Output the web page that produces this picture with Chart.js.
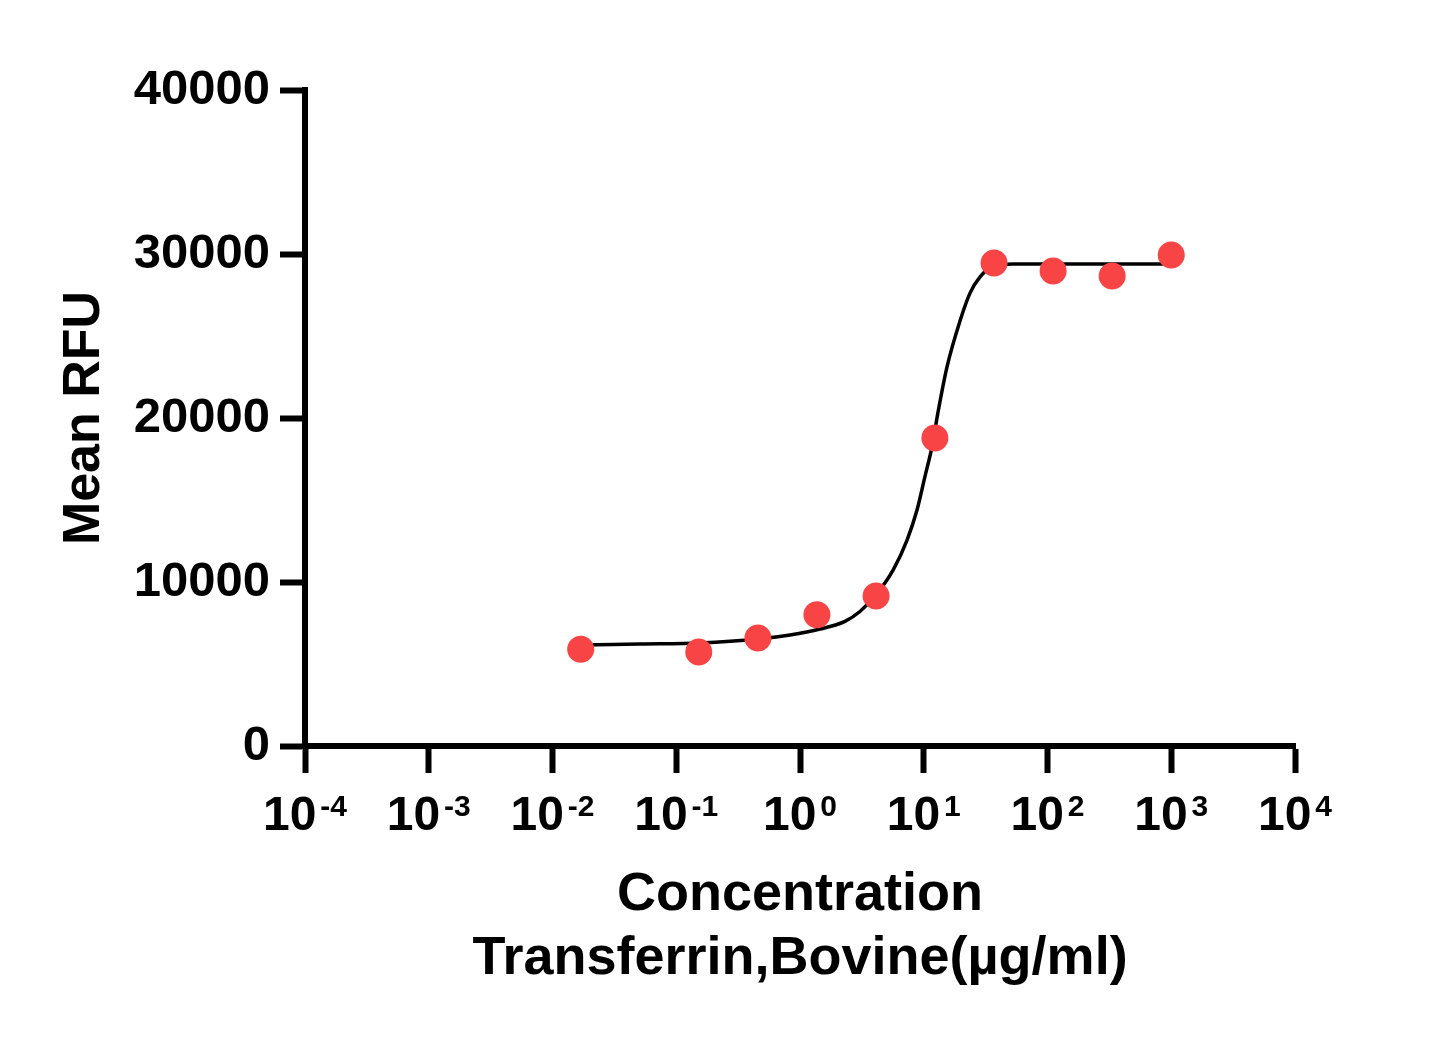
<!DOCTYPE html>
<html>
<head>
<meta charset="utf-8">
<script src="https://cdn.jsdelivr.net/npm/chart.js@4/dist/chart.umd.min.js"></script>
<style>
html,body{margin:0;padding:0;background:#fff}
#wrap{width:1451px;height:1037px}
</style>
</head>
<body>
<div id="wrap"><canvas id="doseChart" width="1451" height="1037"></canvas></div>
<script>
// measured points (concentration in ug/ml, mean RFU)
const concentration = [0.0169, 0.152, 0.457, 1.37, 4.12, 12.3, 37.0, 111, 333, 1000];
const meanRfu = [5900, 5730, 6590, 8000, 9150, 18780, 29450, 28960, 28660, 29940];

// fitted curve
const fitX = [0.017, 0.051, 0.156, 0.458, 0.83, 1.45, 2.31, 3.05, 4.04, 5.65, 7.33, 8.82, 10.2, 11.7, 13.0, 15.4, 19.6, 23.6, 28.5, 36.3, 52.6, 1000];
const fitY = [6160, 6220, 6280, 6520, 6770, 7130, 7600, 8200, 9150, 10730, 12560, 14390, 16400, 18300, 20300, 23100, 25900, 27600, 28600, 29270, 29390, 29390];

const xPowers = [-4, -3, -2, -1, 0, 1, 2, 3, 4];
const yTickValues = [0, 10000, 20000, 30000, 40000];

const FONT = '"Liberation Sans", Arial, Helvetica, sans-serif';
Chart.defaults.color = '#000';
Chart.defaults.font.family = FONT;

const expLabels = {
  id: 'expLabels',
  afterDraw(chart) {
    const ctx = chart.ctx, xs = chart.scales.x;
    ctx.save();
    ctx.fillStyle = '#000';
    ctx.textBaseline = 'alphabetic';
    ctx.textAlign = 'left';
    xPowers.forEach(p => {
      const px = xs.getPixelForValue(Math.pow(10, p));
      const exp = String(p);
      ctx.font = 'bold 48px ' + FONT;
      const wb = ctx.measureText('10').width;
      ctx.font = 'bold 30px ' + FONT;
      const we = ctx.measureText(exp).width;
      const gap = 4;
      const start = px - (wb + gap + we) / 2;
      ctx.font = 'bold 48px ' + FONT;
      ctx.fillText('10', start, 830);
      ctx.font = 'bold 30px ' + FONT;
      ctx.fillText(exp, start + wb + gap, 816);
    });
    ctx.restore();
  }
};

new Chart(document.getElementById('doseChart'), {
  type: 'scatter',
  data: {
    datasets: [
      {
        label: 'Mean RFU',
        data: concentration.map((c, i) => ({x: c, y: meanRfu[i]})),
        backgroundColor: '#F94446',
        borderWidth: 0,
        pointRadius: 13.5,
        pointHoverRadius: 13.5,
        order: 0
      },
      {
        label: 'Fit',
        data: fitX.map((c, i) => ({x: c, y: fitY[i]})),
        showLine: true,
        borderColor: '#000',
        borderWidth: 3.5,
        pointRadius: 0,
        cubicInterpolationMode: 'monotone',
        order: 1
      }
    ]
  },
  options: {
    responsive: false,
    animation: false,
    layout: {padding: {top: 90, right: 156, left: 0, bottom: 0}},
    plugins: {legend: {display: false}, tooltip: {enabled: false}},
    scales: {
      x: {
        type: 'logarithmic',
        min: 1e-4,
        max: 1e4,
        afterBuildTicks: s => { s.ticks = xPowers.map(p => ({value: Math.pow(10, p)})); },
        afterFit: s => { s.height = 291; },
        ticks: {display: false},
        grid: {drawOnChartArea: false, tickLength: 27, tickWidth: 6, tickColor: '#000'},
        border: {color: '#000', width: 6},
        title: {
          display: true,
          text: ['Concentration', 'Transferrin,Bovine(µg/ml)'],
          font: {size: 54, weight: 'bold', lineHeight: 1.18},
          padding: {top: 0, bottom: 46}
        }
      },
      y: {
        min: 0,
        max: 40000,
        afterBuildTicks: s => { s.ticks = yTickValues.map(v => ({value: v})); },
        afterFit: s => { s.width = 305; },
        ticks: {font: {size: 49, weight: 'bold'}, padding: 10, callback: v => String(v)},
        grid: {drawOnChartArea: false, tickLength: 25, tickWidth: 6, tickColor: '#000'},
        border: {color: '#000', width: 6},
        title: {
          display: true,
          text: 'Mean RFU',
          font: {size: 52, weight: 'bold', lineHeight: 1.2},
          padding: {top: 53, bottom: 0}
        }
      }
    }
  },
  plugins: [expLabels]
});
</script>
</body>
</html>
